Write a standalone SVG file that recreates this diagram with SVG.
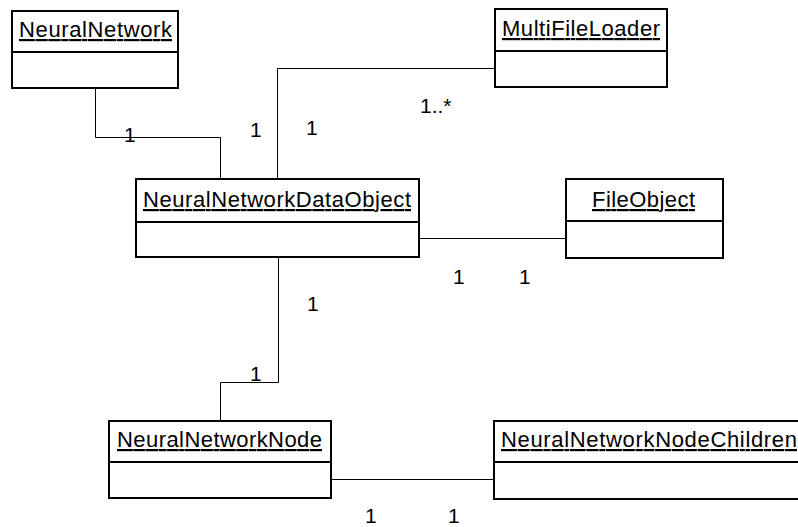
<svg xmlns="http://www.w3.org/2000/svg" width="798" height="527" viewBox="0 0 798 527">
  <style>
    .box { fill: #ffffff; stroke: #000000; stroke-width: 2; }
    .div { stroke: #000000; stroke-width: 2; }
    .name { font-family: "Liberation Sans", Arial, sans-serif; font-size: 22px; fill: #000000; text-decoration: underline; text-anchor: start; }
    .conn { fill: none; stroke: #000000; stroke-width: 1; }
    .mult { font-family: "Liberation Sans", Arial, sans-serif; font-size: 21px; fill: #000000; }
  </style>
  <rect width="798" height="527" fill="#ffffff"/>

  <!-- associations -->
  <g id="connectors">
    <polyline class="conn" points="95.5,88 95.5,137.5 220.5,137.5 220.5,179"/>
    <polyline class="conn" points="277.5,179 277.5,68.5 495,68.5"/>
    <line class="conn" x1="419" y1="238.5" x2="566" y2="238.5"/>
    <polyline class="conn" points="278.5,257 278.5,382.5 220.5,382.5 220.5,421"/>
    <line class="conn" x1="331" y1="479.5" x2="494" y2="479.5"/>
    <text class="mult" x="124" y="142">1</text>
    <text class="mult" x="250" y="137">1</text>
    <text class="mult" x="306" y="135">1</text>
    <text class="mult" x="420" y="113">1..*</text>
    <text class="mult" x="453" y="284">1</text>
    <text class="mult" x="519" y="284">1</text>
    <text class="mult" x="307" y="311">1</text>
    <text class="mult" x="250" y="381">1</text>
    <text class="mult" x="365" y="523">1</text>
    <text class="mult" x="448" y="523">1</text>
  </g>

  <g id="NeuralNetwork">
    <rect class="box" x="12" y="11" width="166" height="77"/>
    <line class="div" x1="12" y1="52" x2="178" y2="52"/>
    <text class="name" x="19" y="37" textLength="153" lengthAdjust="spacing">NeuralNetwork</text>
  </g>

  <g id="MultiFileLoader">
    <rect class="box" x="495" y="9" width="172" height="78"/>
    <line class="div" x1="495" y1="51" x2="667" y2="51"/>
    <text class="name" x="502" y="36" textLength="158" lengthAdjust="spacing">MultiFileLoader</text>
  </g>

  <g id="NeuralNetworkDataObject">
    <rect class="box" x="136" y="179" width="283" height="78"/>
    <line class="div" x1="136" y1="222" x2="419" y2="222"/>
    <text class="name" x="143" y="207" textLength="268" lengthAdjust="spacing">NeuralNetworkDataObject</text>
  </g>

  <g id="FileObject">
    <rect class="box" x="566" y="179" width="157" height="79"/>
    <line class="div" x1="566" y1="221" x2="723" y2="221"/>
    <text class="name" x="592" y="207" textLength="103" lengthAdjust="spacing">FileObject</text>
  </g>

  <g id="NeuralNetworkNode">
    <rect class="box" x="109" y="421" width="222" height="77"/>
    <line class="div" x1="109" y1="462" x2="331" y2="462"/>
    <text class="name" x="117" y="447" textLength="205" lengthAdjust="spacing">NeuralNetworkNode</text>
  </g>

  <g id="NeuralNetworkNodeChildren">
    <rect class="box" x="494" y="421" width="311" height="78"/>
    <line class="div" x1="494" y1="462" x2="805" y2="462"/>
    <text class="name" x="501" y="447" textLength="296" lengthAdjust="spacing">NeuralNetworkNodeChildren</text>
  </g>
</svg>
